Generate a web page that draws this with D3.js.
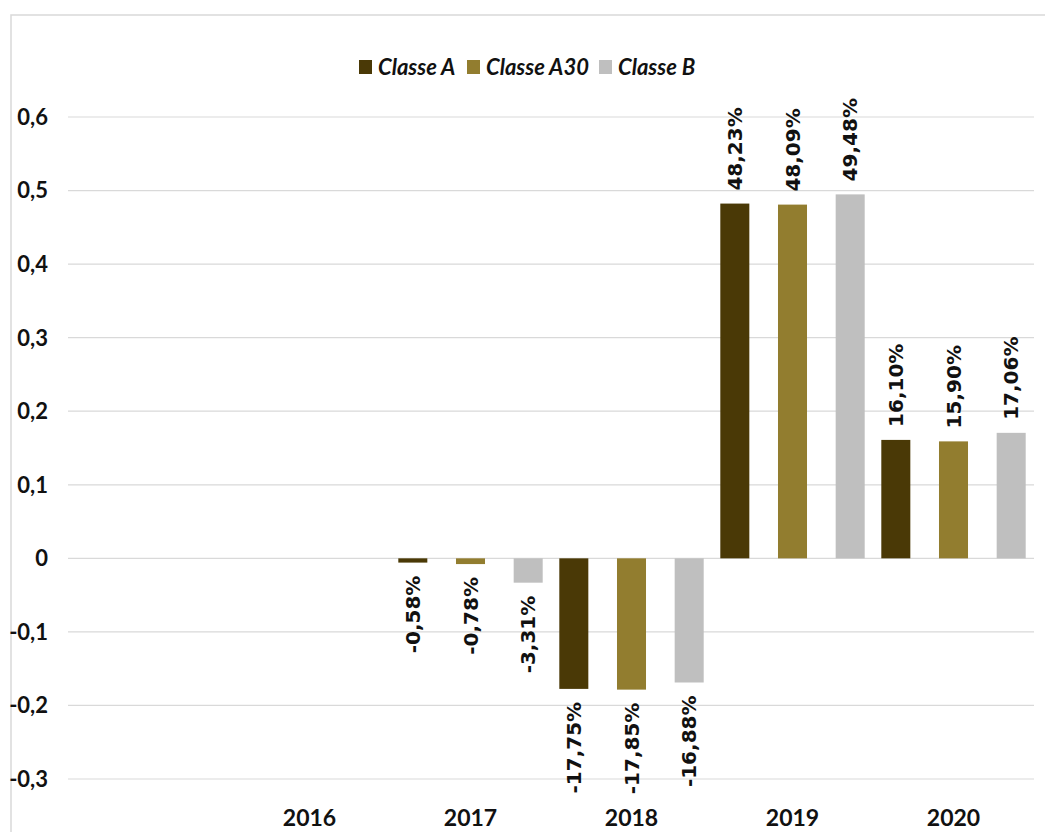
<!DOCTYPE html>
<html>
<head>
<meta charset="utf-8">
<script src="https://cdn.jsdelivr.net/npm/d3@7"></script>
<style>
  body { margin: 0; background: #fff; }
  svg { display: block; }
</style>
</head>
<body>
<div id="chart"></div>
<script>
// data (first category has no label, 2016 has no bars)
var categories = ['', '2016', '2017', '2018', '2019', '2020'];
var seriesNames = ['Classe A', 'Classe A30', 'Classe B'];
var classeA   = [null, null, -0.0058, -0.1775, 0.4823, 0.1610];
var classeA30 = [null, null, -0.0078, -0.1785, 0.4809, 0.1590];
var classeB   = [null, null, -0.0331, -0.1688, 0.4948, 0.1706];
var yTicks = [-0.3, -0.2, -0.1, 0, 0.1, 0.2, 0.3, 0.4, 0.5, 0.6];
var colors = ['#4a3906', '#927d2f', '#bfbfbf'];

var W = 1045, H = 832;
var plot = { left: 68, right: 1034, top: 117, bottom: 779 };

// french-style numbers with a plain hyphen for negatives
var locale = d3.formatLocale({ decimal: ',', thousands: '.', grouping: [3], currency: ['', '€'], minus: '-' });

var svg = d3.select('#chart').append('svg')
  .attr('width', W)
  .attr('height', H);

// outer chart border (cropped on right and bottom)
svg.append('rect')
  .attr('x', 11).attr('y', 15)
  .attr('width', 1100).attr('height', 900)
  .attr('fill', 'none')
  .attr('stroke', '#d9d9d9')
  .attr('stroke-width', 1.5);

var x = d3.scaleBand()
  .domain(categories)
  .range([plot.left, plot.right])
  .padding(0);

var xInner = d3.scaleBand()
  .domain(seriesNames)
  .range([0, x.bandwidth()])
  .paddingInner(0.497)
  .paddingOuter(0.144);

var y = d3.scaleLinear()
  .domain([-0.3, 0.6])
  .range([plot.bottom, plot.top]);

// gridlines
svg.append('g')
  .selectAll('line')
  .data(yTicks)
  .join('line')
  .attr('x1', plot.left)
  .attr('x2', plot.right)
  .attr('y1', function(d) { return y(d); })
  .attr('y2', function(d) { return y(d); })
  .attr('stroke', '#d9d9d9')
  .attr('stroke-width', 1.2);

// y axis labels
var fmtTick = function(d) { return d === 0 ? '0' : locale.format('.1f')(d); };
svg.append('g')
  .selectAll('text')
  .data(yTicks)
  .join('text')
  .attr('x', 48)
  .attr('y', function(d) { return y(d); })
  .attr('dy', '0.36em')
  .attr('text-anchor', 'end')
  .style('font-family', 'Lato, "Open Sans", sans-serif')
  .style('font-weight', 700)
  .style('font-size', '22px')
  .style('fill', '#111')
  .text(fmtTick);

// x axis labels (low position)
svg.append('g')
  .selectAll('text')
  .data(categories)
  .join('text')
  .attr('x', function(d) { return x(d) + x.bandwidth() / 2; })
  .attr('y', 826)
  .attr('text-anchor', 'middle')
  .style('font-family', 'Lato, "Open Sans", sans-serif')
  .style('font-weight', 700)
  .style('font-size', '23px')
  .style('fill', '#111')
  .text(function(d) { return d; });

// bars
var allSeries = [classeA, classeA30, classeB];
var rows = [];
allSeries.forEach(function(vals, s) {
  vals.forEach(function(v, i) {
    if (v !== null) rows.push({ cat: categories[i], name: seriesNames[s], value: v, s: s });
  });
});

svg.append('g')
  .selectAll('rect')
  .data(rows)
  .join('rect')
  .attr('x', function(d) { return x(d.cat) + xInner(d.name); })
  .attr('width', xInner.bandwidth())
  .attr('y', function(d) { return y(Math.max(0, d.value)); })
  .attr('height', function(d) { return Math.abs(y(d.value) - y(0)); })
  .attr('fill', function(d) { return colors[d.s]; });

// rotated data labels
var fmtPct = function(v) { return locale.format('.2f')(v * 100) + '%'; };
svg.append('g')
  .selectAll('text')
  .data(rows)
  .join('text')
  .attr('transform', function(d) {
    var cx = x(d.cat) + xInner(d.name) + xInner.bandwidth() / 2;
    var cy = d.value >= 0 ? y(d.value) - 13 : y(d.value) + 13;
    return 'translate(' + cx + ',' + cy + ') rotate(-90)';
  })
  .attr('dy', '0.36em')
  .attr('text-anchor', function(d) { return d.value >= 0 ? 'start' : 'end'; })
  .style('font-family', '"DejaVu Sans", sans-serif')
  .style('font-weight', 700)
  .style('font-size', '20px')
  .style('fill', '#111')
  .text(function(d) { return fmtPct(d.value); });

// legend
var legendX = [359, 467, 599];
var legend = svg.append('g')
  .selectAll('g')
  .data(seriesNames)
  .join('g')
  .attr('transform', function(d, i) { return 'translate(' + legendX[i] + ',60)'; });

legend.append('rect')
  .attr('width', 13).attr('height', 14)
  .attr('fill', function(d, i) { return colors[i]; });

legend.append('text')
  .attr('x', 19)
  .attr('y', 15)
  .style('font-family', 'Lato, "Open Sans", sans-serif')
  .style('font-weight', 700)
  .style('font-style', 'italic')
  .style('font-size', '22px')
  .style('fill', '#111')
  .text(function(d) { return d; });
</script>
</body>
</html>
